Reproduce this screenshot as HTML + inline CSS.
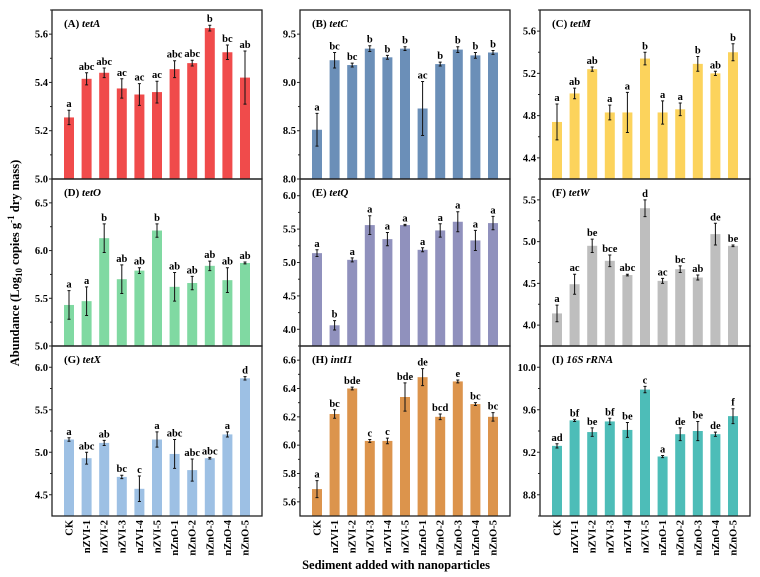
<!DOCTYPE html>
<html><head><meta charset="utf-8">
<style>
html,body{margin:0;padding:0;background:#fff;}
svg{display:block;font-family:"Liberation Serif",serif;font-weight:bold;}
</style></head>
<body>
<svg id="chart" width="760" height="577" viewBox="0 0 760 577" xmlns="http://www.w3.org/2000/svg">
<text transform="translate(19,263) rotate(-90)" text-anchor="middle" font-size="12.5">Abundance (Log<tspan font-size="9" dy="3">10</tspan><tspan dy="-3"> copies g</tspan><tspan font-size="9" dy="-5">-1</tspan><tspan dy="5"> dry mass)</tspan></text>
<text x="396" y="569" text-anchor="middle" font-size="12.5">Sediment added with nanoparticles</text>
</svg>
<script>
const categories = ["CK","nZVI-1","nZVI-2","nZVI-3","nZVI-4","nZVI-5","nZnO-1","nZnO-2","nZnO-3","nZnO-4","nZnO-5"];

const tetAVals = [5.255,5.415,5.44,5.375,5.35,5.36,5.455,5.48,5.625,5.525,5.42];
const tetAErr  = [0.03,0.025,0.02,0.04,0.045,0.045,0.035,0.012,0.012,0.03,0.11];
const tetALetters = ["a","abc","abc","ac","ac","ac","abc","abc","b","bc","ab"];
const tetATicks = [5.0,5.2,5.4,5.6];

const tetCVals = [8.51,9.23,9.18,9.35,9.26,9.35,8.73,9.19,9.34,9.28,9.31];
const tetCErr  = [0.17,0.08,0.02,0.03,0.02,0.02,0.28,0.02,0.03,0.03,0.02];
const tetCLetters = ["a","bc","bc","b","b","b","ac","b","b","b","b"];
const tetCTicks = [8.0,8.5,9.0,9.5];

const tetMVals = [4.74,5.01,5.24,4.83,4.83,5.34,4.83,4.86,5.29,5.20,5.40];
const tetMErr  = [0.17,0.05,0.02,0.07,0.19,0.06,0.11,0.06,0.07,0.02,0.08];
const tetMLetters = ["a","ab","ab","a","a","b","a","a","b","ab","b"];
const tetMTicks = [4.4,4.8,5.2,5.6];

const tetOVals = [5.43,5.47,6.13,5.70,5.79,6.21,5.62,5.66,5.84,5.69,5.87];
const tetOErr  = [0.15,0.15,0.15,0.15,0.03,0.07,0.15,0.07,0.05,0.13,0.01];
const tetOLetters = ["a","a","b","ab","ab","b","ab","ab","ab","ab","ab"];
const tetOTicks = [5.0,5.5,6.0,6.5];

const tetQVals = [5.14,4.06,5.04,5.56,5.35,5.56,5.19,5.48,5.61,5.33,5.59];
const tetQErr  = [0.05,0.07,0.03,0.14,0.1,0.01,0.03,0.1,0.15,0.15,0.1];
const tetQLetters = ["a","b","a","a","a","a","a","a","a","a","a"];
const tetQTicks = [4.0,4.5,5.0,5.5,6.0];

const tetWVals = [4.14,4.49,4.95,4.77,4.60,5.40,4.53,4.67,4.57,5.09,4.95];
const tetWErr  = [0.1,0.12,0.08,0.07,0.01,0.1,0.03,0.04,0.03,0.13,0.01];
const tetWLetters = ["a","ac","be","bce","abc","d","ac","bc","ab","de","be"];
const tetWTicks = [4.0,4.5,5.0,5.5];

const tetXVals = [5.15,4.93,5.11,4.71,4.57,5.15,4.98,4.79,4.93,5.21,5.87];
const tetXErr  = [0.02,0.07,0.03,0.02,0.15,0.09,0.17,0.13,0.01,0.03,0.02];
const tetXLetters = ["a","abc","ab","bc","c","a","abc","abc","abc","a","d"];
const tetXTicks = [4.5,5.0,5.5,6.0];

const intI1Vals = [5.69,6.22,6.40,6.03,6.03,6.34,6.48,6.20,6.45,6.29,6.20];
const intI1Err  = [0.06,0.03,0.01,0.01,0.02,0.1,0.06,0.02,0.01,0.01,0.03];
const intI1Letters = ["a","bc","bde","c","c","bde","de","bcd","e","bc","bc"];
const intI1Ticks = [5.6,5.8,6.0,6.2,6.4,6.6];

const rrnaVals = [9.26,9.50,9.39,9.49,9.41,9.79,9.16,9.37,9.40,9.37,9.54];
const rrnaErr  = [0.02,0.01,0.04,0.03,0.07,0.03,0.01,0.06,0.09,0.02,0.07];
const rrnaLetters = ["ad","bf","be","bf","be","c","a","de","be","de","f"];
const rrnaTicks = [8.8,9.2,9.6,10.0];

const panels = [
 {id:"tetA",lab:"(A) ",gene:"tetA",v:tetAVals,e:tetAErr,l:tetALetters,t:tetATicks,min:5.0,max:5.7,dec:1,color:"#f04b4b",x:52,y:10,h:169},
 {id:"tetC",lab:"(B) ",gene:"tetC",v:tetCVals,e:tetCErr,l:tetCLetters,t:tetCTicks,min:8.0,max:9.75,dec:1,color:"#6b8fb8",x:300,y:10,h:169},
 {id:"tetM",lab:"(C) ",gene:"tetM",v:tetMVals,e:tetMErr,l:tetMLetters,t:tetMTicks,min:4.2,max:5.8,dec:1,color:"#fcd35c",x:540,y:10,h:169},
 {id:"tetO",lab:"(D) ",gene:"tetO",v:tetOVals,e:tetOErr,l:tetOLetters,t:tetOTicks,min:5.0,max:6.75,dec:1,color:"#80d9a2",x:52,y:179,h:167},
 {id:"tetQ",lab:"(E) ",gene:"tetQ",v:tetQVals,e:tetQErr,l:tetQLetters,t:tetQTicks,min:3.75,max:6.25,dec:1,color:"#9091bd",x:300,y:179,h:167},
 {id:"tetW",lab:"(F) ",gene:"tetW",v:tetWVals,e:tetWErr,l:tetWLetters,t:tetWTicks,min:3.75,max:5.75,dec:1,color:"#bebebe",x:540,y:179,h:167},
 {id:"tetX",lab:"(G) ",gene:"tetX",v:tetXVals,e:tetXErr,l:tetXLetters,t:tetXTicks,min:4.25,max:6.25,dec:1,color:"#9dc0e4",x:52,y:346,h:170},
 {id:"intI1",lab:"(H) ",gene:"intI1",v:intI1Vals,e:intI1Err,l:intI1Letters,t:intI1Ticks,min:5.5,max:6.7,dec:1,color:"#dc944c",x:300,y:346,h:170},
 {id:"rrna",lab:"(I) ",gene:"16S rRNA",v:rrnaVals,e:rrnaErr,l:rrnaLetters,t:rrnaTicks,min:8.6,max:10.2,dec:1,color:"#4dbdb8",x:540,y:346,h:170,bottom:true}
];
panels[6].bottom=true; panels[7].bottom=true;

const svg = document.getElementById('chart');
const NS = "http://www.w3.org/2000/svg";
function mk(tag, attrs, parent){
  const el = document.createElementNS(NS, tag);
  for (const k in attrs) el.setAttribute(k, attrs[k]);
  parent.appendChild(el);
  return el;
}

panels.forEach(p => {
  const W = 210;
  const g = mk('g', {}, svg);
  
  
  const yS = v => p.y + p.h - (v - p.min) / (p.max - p.min) * p.h;
  const xS = i => p.x + 17 + i * (W - 34) / 10;
  // bars
  p.v.forEach((val, i) => {
    const cx = xS(i);
    const top = yS(val);
    const bar = mk('rect', {x: cx - 5, y: top, width: 10, height: p.y + p.h - top, fill: p.color}, g);
    
    
    const y1 = yS(val + p.e[i]), y2 = yS(val - p.e[i]);
    const eb = mk('path', {d: `M${cx},${y1}V${y2}M${cx-1.5},${y1}H${cx+1.5}M${cx-1.5},${y2}H${cx+1.5}`, stroke: '#111', 'stroke-width': 1, fill: 'none'}, g);
    
    
    const lt = mk('text', {x: cx, y: y1 - 3, 'text-anchor': 'middle', 'font-size': 10.5}, g);
    lt.textContent = p.l[i];
    
    
    if (p.bottom) {
      const xl = mk('text', {transform: `translate(${cx+3.5},${p.y+p.h+4}) rotate(-90)`, 'text-anchor': 'end', 'font-size': 10.5}, g);
      xl.textContent = categories[i];
      
      
    }
  });
  // frame
  const fr = mk('rect', {x: p.x, y: p.y, width: W, height: p.h, fill: 'none', stroke: '#222', 'stroke-width': 1.3}, g);
  
  
  // ticks
  const step = p.t[1] - p.t[0];
  p.t.forEach(t => {
    const ty = yS(t);
    mk('line', {x1: p.x - 3, x2: p.x, y1: ty, y2: ty, stroke: '#222', 'stroke-width': 1}, g);
    const my = yS(t + step / 2);
    if (my > p.y) mk('line', {x1: p.x - 2, x2: p.x, y1: my, y2: my, stroke: '#222', 'stroke-width': 1}, g);
    const tl = mk('text', {x: p.x - 4, y: ty + 3.5, 'text-anchor': 'end', 'font-size': 10.5}, g);
    tl.textContent = t.toFixed(p.dec);
    
    
  });
  const tmin = yS(p.t[0] - step / 2);
  if (tmin < p.y + p.h) mk('line', {x1: p.x - 2, x2: p.x, y1: tmin, y2: tmin, stroke: '#222', 'stroke-width': 1}, g);
  // title
  const ti = mk('text', {x: p.x + 12, y: p.y + 17, 'font-size': 11}, g);
  
  
  ti.textContent = p.lab;
  const it = mk('tspan', {'font-style': 'italic'}, ti);
  it.textContent = p.gene;
});
</script>
</body></html>
